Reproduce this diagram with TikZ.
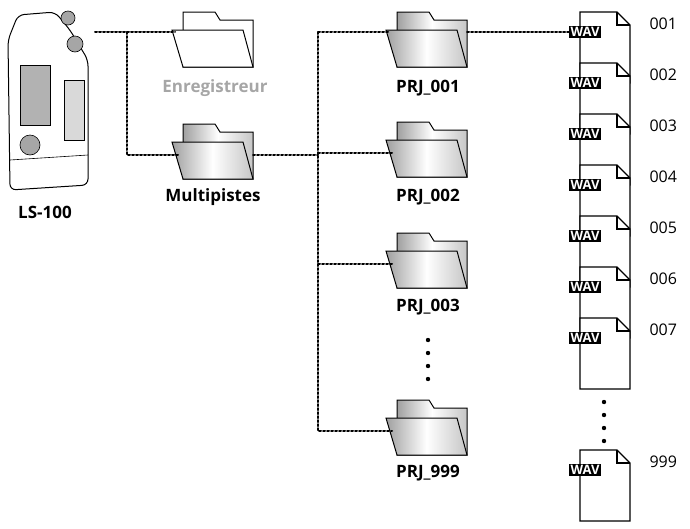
\documentclass[tikz,border=0pt]{standalone}
\usepackage{fontspec}
\setmainfont{Open Sans}
\usetikzlibrary{positioning}

\colorlet{fback}{gray!45}
\colorlet{fdark}{gray!75}

\tikzset{
  link/.style={line width=2pt, dotted, line cap=round},
  lbl/.style={font=\bfseries\fontsize{17}{19}\selectfont},
  num/.style={font=\fontsize{16}{18}\selectfont, anchor=west},
  wav/.style={fill=black, text=white, inner sep=1.5pt, font=\bfseries\fontsize{13}{13}\selectfont},
  empty/.style={fill=white},
  full/.style={left color=fdark, right color=fback, middle color=white},
  pics/folder/.style={code={
    \draw[fill=white, line width=1pt, #1] (0,0) -- (32,0) -- (37,8) -- (70,8) -- (70,55) -- (0,55) -- cycle;
    \draw[line width=1pt, fill=white, #1] (-11,18) -- (60,18) -- (70,55) -- (0,55) -- cycle;
    \coordinate (-l) at (-8,20);
    \coordinate (-r) at (70,20);
    \coordinate (-m) at (-5,31);
  }},
  pics/page/.style={code={
    \draw[fill=white, line width=1.2pt] (0,0) -- (37,0) -- (50,13) -- (50,71) -- (0,71) -- cycle;
    \draw[line width=1.2pt] (37,0) -- (37,13) -- (50,13);
    \node[wav] (-tag) at (5,20) {WAV};
  }}
}

\begin{document}
\begin{tikzpicture}[x=1pt, y=-1pt]
        \useasboundingbox (0,0) rectangle (690,528);

        % recorder
        \draw[fill=white, line width=1pt, rounded corners=6pt] (8,40) -- (18,15) -- (55,12) -- (70,30) -- (88,60) -- (88,185) -- (10,190) -- cycle;
        \draw[fill=gray!60, line width=0.6pt] (20,65) rectangle (50,125);
        \draw[fill=gray!30, line width=0.6pt] (64,80) rectangle (84,140);
        \draw[fill=gray!70, line width=0.6pt] (30,145) circle (10pt);
        \draw[fill=gray!70, line width=0.6pt] (75,44) circle (8pt);
        \draw[fill=gray!70, line width=0.6pt] (68,18) circle (7pt);
        \draw[line width=0.6pt] (10,160) -- (88,155);
        \coordinate (dev) at (95,32);
        \node[lbl] (ls) at (45,212) {LS-100};

        % folders
        \pic (enr) at (183,12) {folder=empty};
        \pic (mul) at (183,124) {folder=full};
        \pic (p1) at (397,12) {folder=full};
        \pic (p2) at (397,122) {folder=full};
        \pic (p3) at (397,233) {folder=full};
        \pic (p9) at (397,400) {folder=full};
        \node[lbl, text=gray!70] (tenr) at (215,88) {Enregistreur};
        \node[lbl] (tmul) at (213,197) {Multipistes};
        \node[lbl] (t1) at (428,88) {PRJ\_001};
        \node[lbl] (t2) at (428,197) {PRJ\_002};
        \node[lbl] (t3) at (428,307) {PRJ\_003};
        \node[lbl] (t9) at (428,473) {PRJ\_999};
        \foreach \y in {340,353,366,379} \fill (428,\y) circle (2.2pt);

        % tree
        \coordinate (b1) at (127,32);
        \coordinate (t) at (318,32);
        \draw[link] (dev) -- (enr-l);
        \draw[link] (b1) -- (b1 |- mul-m) -- (mul-m);
        \draw[link] (mul-r |- mul-m) -- (t |- mul-m);
        \draw[link] (t) -- (t |- p9-m) -- (p9-m);
        \draw[link] (t) -- (p1-l);
        \draw[link] (t |- p2-m) -- (p2-m);
        \draw[link] (t |- p3-m) -- (p3-m);

        % files
        \foreach \n/\y in {001/12,002/63,003/114,004/165,005/216,006/267,007/318,999/450} {
          \pic (f\n) at (580,\y) {page};
          \node[num] (n\n) at (646,\y+12) {\n};
        }
        \foreach \y in {408,421,434,447} \fill (604,\y-6) circle (2.2pt);
        \draw[link] (p1-r) -- (f001-tag.west);
    \end{tikzpicture}
\end{document}
